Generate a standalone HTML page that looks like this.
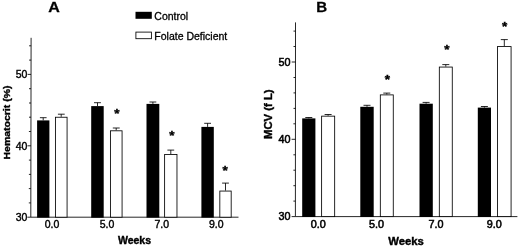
<!DOCTYPE html>
<html><head><meta charset="utf-8"><title>Figure</title>
<style>
html,body{margin:0;padding:0;background:#fff;}
svg{display:block}
text{font-family:"Liberation Sans", Arial, sans-serif;fill:#000}
.t{stroke:#000;stroke-width:0.3px}
.b{font-weight:bold;stroke:#000;stroke-width:0.4px}
.p{font-size:15.4px;font-weight:bold;stroke:#000;stroke-width:0.3px}
.s{font-size:13.5px;font-weight:bold;stroke:#000;stroke-width:0.4px}
.l{stroke:#000;stroke-width:0.85;fill:none}
</style></head><body>
<svg width="520" height="247" viewBox="0 0 520 247">
<rect width="520" height="247" fill="#fff"/>

<path class="l" d="M31.1 37.8L30.8 217.2H238.5"/>
<path class="l" d="M27.4 217.2H30.8M28.8 202.9H30.8M28.8 188.6H30.8M28.9 174.4H30.9M28.9 160.1H30.9M27.5 145.8H30.9M28.9 131.5H30.9M29.0 117.2H31.0M29.0 103.0H31.0M29.0 88.7H31.0M27.6 74.4H31.0M29.1 60.1H31.1M29.1 45.8H31.1"/>
<text class="t" font-size="10.5" style="stroke-width:0.4px" x="27.4" y="221" text-anchor="end">30</text>
<text class="t" font-size="10.5" style="stroke-width:0.4px" x="27.4" y="150" text-anchor="end">40</text>
<text class="t" font-size="10.5" style="stroke-width:0.4px" x="27.4" y="78" text-anchor="end">50</text>
<path class="l" d="M43.2 120.4V117.7M39.9 117.7H46.6"/>
<rect x="37.1" y="120.4" width="12.3" height="97.2" fill="#000"/>
<path class="l" d="M61.2 116.8V114.2M57.9 114.2H64.7"/>
<rect class="l" x="55.42" y="117.24" width="11.65" height="99.96" style="fill:#fff"/>
<text class="t" font-size="10.5" style="stroke-width:0.4px" x="52.1" y="228" text-anchor="middle">0.0</text>
<path class="l" d="M97.5 106.1V102.7M94.0 102.7H100.9"/>
<rect x="91.2" y="106.1" width="12.5" height="111.6" fill="#000"/>
<path class="l" d="M116.2 130.4V128.0M112.8 128.0H119.7"/>
<rect class="l" x="110.42" y="130.80" width="11.65" height="86.40" style="fill:#fff"/>
<text class="t" font-size="10.5" style="stroke-width:0.4px" x="107.0" y="228" text-anchor="middle">5.0</text>
<path class="l" d="M152.9 103.9V102.0M149.5 102.0H156.3"/>
<rect x="146.5" y="103.9" width="12.8" height="113.7" fill="#000"/>
<path class="l" d="M170.8 154.1V150.1M167.4 150.1H174.2"/>
<rect class="l" x="164.62" y="154.51" width="12.35" height="62.69" style="fill:#fff"/>
<text class="t" font-size="10.5" style="stroke-width:0.4px" x="161.7" y="228" text-anchor="middle">7.0</text>
<path class="l" d="M207.6 126.9V123.3M204.2 123.3H211.0"/>
<rect x="201.4" y="126.9" width="12.4" height="90.7" fill="#000"/>
<path class="l" d="M225.5 190.6V183.1M222.1 183.1H228.9"/>
<rect class="l" x="219.83" y="191.06" width="11.35" height="26.14" style="fill:#fff"/>
<text class="t" font-size="10.5" style="stroke-width:0.4px" x="216.3" y="228" text-anchor="middle">9.0</text>
<text class="s" x="116.9" y="118" text-anchor="middle">*</text>
<text class="s" x="172.0" y="140" text-anchor="middle">*</text>
<text class="s" x="225.2" y="175" text-anchor="middle">*</text>
<text class="b" font-size="10.5" transform="translate(10.4 122.5) rotate(-90) scale(1 0.92)" text-anchor="middle">Hematocrit (%)</text>
<text class="p" transform="translate(54 12.2) scale(1.04 1)" text-anchor="middle">A</text>
<text class="b" font-size="10.5" x="134.5" y="244" text-anchor="middle">Weeks</text>
<rect x="135.5" y="11.8" width="16.3" height="7" fill="#000"/>
<rect class="l" x="135.9" y="32.1" width="15.5" height="6.6" style="fill:#fff"/>
<text class="t" font-size="10.5" x="154.3" y="19.9">Control</text>
<text class="t" font-size="10.5" x="154.3" y="40.1">Folate Deficient</text>
<path class="l" d="M295.5 22.4L295.4 216.6H517.4"/>
<path class="l" d="M291.6 216.6H295.4M293.4 201.1H295.4M293.4 185.7H295.4M293.4 170.2H295.4M293.4 154.8H295.4M291.6 139.3H295.4M293.4 123.8H295.4M293.5 108.4H295.5M293.5 92.9H295.5M293.5 77.5H295.5M291.7 62.0H295.5M293.5 46.5H295.5M293.5 31.1H295.5"/>
<text class="t" font-size="10.8" style="stroke-width:0.55px" x="290.4" y="220" text-anchor="end">30</text>
<text class="t" font-size="10.8" style="stroke-width:0.55px" x="290.4" y="143" text-anchor="end">40</text>
<text class="t" font-size="10.8" style="stroke-width:0.55px" x="290.4" y="66" text-anchor="end">50</text>
<path class="l" d="M308.8 118.4V117.5M305.3 117.5H312.3"/>
<rect x="302.2" y="118.4" width="13.2" height="98.6" fill="#000"/>
<path class="l" d="M328.1 115.7V114.5M324.6 114.5H331.6"/>
<rect class="l" x="321.62" y="116.15" width="13.05" height="100.45" style="fill:#fff"/>
<text class="t" font-size="10.8" style="stroke-width:0.55px" x="318.2" y="228" text-anchor="middle">0.0</text>
<path class="l" d="M367.0 106.8V105.3M363.5 105.3H370.5"/>
<rect x="360.3" y="106.8" width="13.4" height="110.2" fill="#000"/>
<path class="l" d="M386.8 94.5V93.1M383.3 93.1H390.3"/>
<rect class="l" x="380.32" y="94.89" width="12.95" height="121.71" style="fill:#fff"/>
<text class="t" font-size="10.8" style="stroke-width:0.55px" x="376.5" y="228" text-anchor="middle">5.0</text>
<path class="l" d="M426.1 103.7V102.4M422.6 102.4H429.6"/>
<rect x="419.5" y="103.7" width="13.3" height="113.3" fill="#000"/>
<path class="l" d="M445.8 66.6V64.6M442.3 64.6H449.3"/>
<rect class="l" x="439.32" y="67.06" width="12.95" height="149.54" style="fill:#fff"/>
<text class="t" font-size="10.8" style="stroke-width:0.55px" x="436.0" y="228" text-anchor="middle">7.0</text>
<path class="l" d="M484.4 107.6V106.5M480.9 106.5H487.9"/>
<rect x="477.8" y="107.6" width="13.2" height="109.4" fill="#000"/>
<path class="l" d="M504.3 46.2V39.6M500.8 39.6H507.8"/>
<rect class="l" x="497.53" y="46.58" width="13.55" height="170.02" style="fill:#fff"/>
<text class="t" font-size="10.8" style="stroke-width:0.55px" x="494.3" y="228" text-anchor="middle">9.0</text>
<text class="s" x="387.4" y="84" text-anchor="middle">*</text>
<text class="s" x="447" y="54" text-anchor="middle">*</text>
<text class="s" x="504.7" y="31" text-anchor="middle">*</text>
<text class="b" font-size="11.3" transform="translate(272.0 114.2) rotate(-90) scale(1 0.95)" text-anchor="middle">MCV (f L)</text>
<text class="p" transform="translate(321.8 12.2) scale(0.98 1)" text-anchor="middle">B</text>
<text class="b" font-size="11.3" x="406" y="245" text-anchor="middle">Weeks</text>
</svg></body></html>
